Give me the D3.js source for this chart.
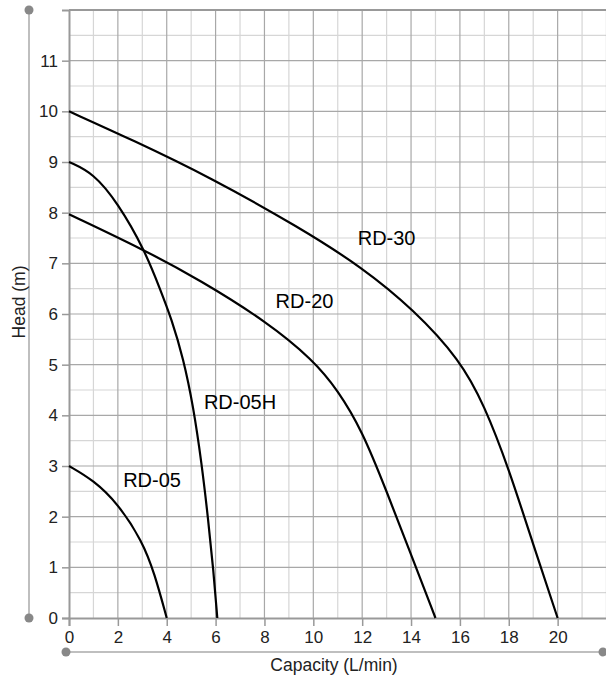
<!DOCTYPE html>
<html>
<head>
<meta charset="utf-8">
<script src="https://cdn.jsdelivr.net/npm/d3@7.9.0/dist/d3.min.js"></script>
<style>
  body { margin: 0; background: #fff; }
  svg { display: block; font-family: "Liberation Sans", Arial, sans-serif; }
</style>
</head>
<body>
<svg id="chart" width="606" height="679"></svg>
<script>
// pump curves: capacity (L/min) vs head (m)
const rd05 = [[0, 3], [1, 2.72], [2, 2.26], [3, 1.52], [3.5, 0.88], [4, 0]];
const rd05h = [[0, 9], [1, 8.78], [2, 8.19], [3.1, 7.26], [3.72, 6.5], [4.2, 5.9], [4.68, 5.12], [5.09, 4.17], [5.43, 3.05], [5.7, 1.93], [5.91, 0.95], [6.07, 0]];
const rd20 = [[0, 7.97], [3.1, 7.26], [5.36, 6.67], [8.09, 5.85], [10, 5.09], [11, 4.5], [12, 3.7], [13, 2.5], [14, 1.25], [15, 0]];
const rd30 = [[0, 10], [2.62, 9.43], [5.77, 8.7], [9.46, 7.7], [12, 6.92], [14.1, 6.09], [16, 5.1], [17, 4.2], [18, 2.95], [19, 1.45], [20, 0]];
const labels = [
  { name: "RD-30", x: 13.0, y: 7.51 },
  { name: "RD-20", x: 9.64, y: 6.26 },
  { name: "RD-05H", x: 7.0, y: 4.27 },
  { name: "RD-05", x: 3.4, y: 2.73 }
];
const xTicks = [0, 2, 4, 6, 8, 10, 12, 14, 16, 18, 20];
const yTicks = [0, 1, 2, 3, 4, 5, 6, 7, 8, 9, 10, 11];

const svg = d3.select("#chart");
const x = d3.scaleLinear().domain([0, 22]).range([69, 606.5]);
const y = d3.scaleLinear().domain([0, 12]).range([618, 10]);

// minor grid
svg.append("g").selectAll("line").data(d3.range(1, 22, 2)).join("line")
  .attr("x1", d => x(d)).attr("x2", d => x(d)).attr("y1", y(0)).attr("y2", y(12))
  .attr("stroke", "#d6d6d6").attr("stroke-width", 1.2);
svg.append("g").selectAll("line").data(d3.range(0.5, 12, 1)).join("line")
  .attr("x1", x(0)).attr("x2", x(22)).attr("y1", d => y(d)).attr("y2", d => y(d))
  .attr("stroke", "#d6d6d6").attr("stroke-width", 1.2);
// major grid
svg.append("g").selectAll("line").data(d3.range(2, 23, 2)).join("line")
  .attr("x1", d => x(d)).attr("x2", d => x(d)).attr("y1", y(0)).attr("y2", y(12))
  .attr("stroke", "#a8a8a8").attr("stroke-width", 1.2);
svg.append("g").selectAll("line").data(d3.range(1, 12, 1)).join("line")
  .attr("x1", x(0)).attr("x2", x(22)).attr("y1", d => y(d)).attr("y2", d => y(d))
  .attr("stroke", "#a8a8a8").attr("stroke-width", 1.2);

// frame top
svg.append("line").attr("x1", x(0)).attr("x2", x(22)).attr("y1", y(12)).attr("y2", y(12))
  .attr("stroke", "#999").attr("stroke-width", 2);

// axes
const xAxis = svg.append("g").attr("transform", `translate(0,${y(0)})`)
  .call(d3.axisBottom(x).tickValues(xTicks).tickSize(8).tickPadding(5));
const yAxis = svg.append("g").attr("transform", `translate(${x(0)},0)`)
  .call(d3.axisLeft(y).tickValues(yTicks).tickSize(7).tickPadding(4));
[xAxis, yAxis].forEach(a => {
  a.select(".domain").attr("stroke", "#999").attr("stroke-width", 2);
  a.selectAll(".tick line").attr("stroke", "#999").attr("stroke-width", 1.5);
  a.selectAll(".tick text").attr("fill", "#222").style("font-size", "17px")
    .style("font-family", "'Liberation Sans', Arial, sans-serif");
});

// curves (smoothed through the read-off points)
const line = d3.line().x(d => x(d[0])).y(d => y(d[1])).curve(d3.curveBasis);
[rd05, rd05h, rd20, rd30].forEach(s => {
  svg.append("path").datum(s).attr("d", line)
    .attr("fill", "none").attr("stroke", "#000").attr("stroke-width", 2.2);
});

svg.append("g").selectAll("text").data(labels).join("text")
  .attr("x", d => x(d.x)).attr("y", d => y(d.y))
  .attr("text-anchor", "middle").attr("dy", "0.36em")
  .style("font-size", "20px").attr("fill", "#000")
  .text(d => d.name);

// decorative axis rails
svg.append("line").attr("x1", 29).attr("x2", 29).attr("y1", 10).attr("y2", 618)
  .attr("stroke", "#aaa").attr("stroke-width", 1.5);
svg.append("line").attr("x1", 66).attr("x2", 603).attr("y1", 652).attr("y2", 652)
  .attr("stroke", "#aaa").attr("stroke-width", 1.5);
svg.selectAll("circle.dot").data([[29, 10], [29, 618], [66, 652], [603, 652]]).join("circle")
  .attr("cx", d => d[0]).attr("cy", d => d[1]).attr("r", 4.5).attr("fill", "#888");

svg.append("text").attr("transform", `translate(25,302) rotate(-90)`)
  .attr("text-anchor", "middle").style("font-size", "17.5px").attr("fill", "#222")
  .text("Head (m)");
svg.append("text").attr("x", 334).attr("y", 671)
  .attr("text-anchor", "middle").style("font-size", "17.5px").attr("fill", "#222")
  .text("Capacity (L/min)");
</script>
</body>
</html>
